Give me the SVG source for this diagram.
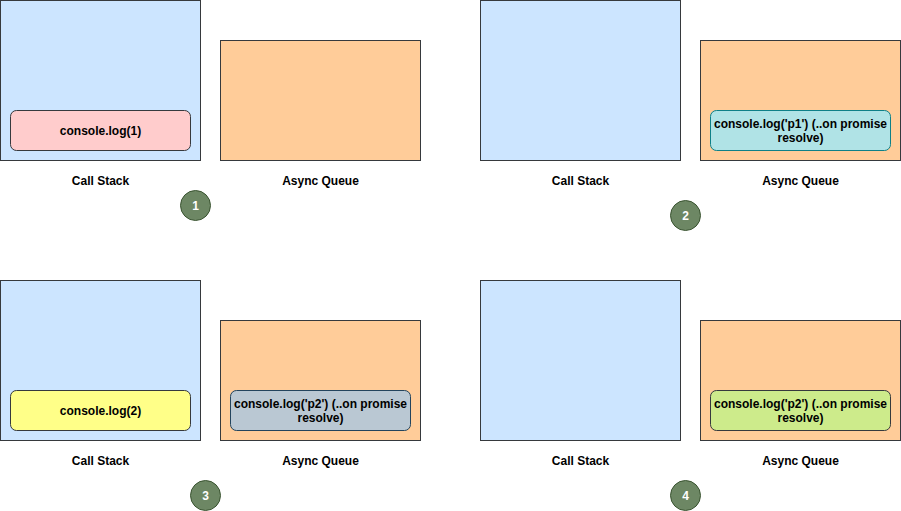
<svg xmlns="http://www.w3.org/2000/svg" width="901" height="511" viewBox="0 0 901 511">
<style>
text{font-family:"Liberation Sans",Arial,sans-serif;font-size:12px;font-weight:bold;text-anchor:middle;fill:#000}
.stack{fill:#cce5ff;stroke:#36393d;stroke-width:1}
.queue{fill:#ffcc99;stroke:#36393d;stroke-width:1}
.item{stroke-width:1}
.num{fill:#6d8764;stroke:#3a5431;stroke-width:1}
.numt{fill:#fff;font-weight:bold}
</style>
<rect width="901" height="511" fill="#fff"/>
<g id="panel1">
<g id="stack1"><rect class="stack" x="0.5" y="0.5" width="200" height="160"/></g>
<g id="queue1"><rect class="queue" x="220.5" y="40.5" width="200" height="120"/></g>
<g id="item1"><rect class="item" x="10.5" y="110.5" width="180" height="40" rx="6" fill="#ffcccc" stroke="#36393d"/><text x="100.5" y="134.5">console.log(1)</text></g>
<g id="label1a"><text x="100.5" y="185">Call Stack</text></g>
<g id="label1b"><text x="320.5" y="185">Async Queue</text></g>
<g id="num1"><circle class="num" cx="195.5" cy="205.5" r="15"/><text class="numt" x="195.5" y="209.5">1</text></g>
</g>
<g id="panel2">
<g id="stack2"><rect class="stack" x="480.5" y="0.5" width="200" height="160"/></g>
<g id="queue2"><rect class="queue" x="700.5" y="40.5" width="200" height="120"/></g>
<g id="item2"><rect class="item" x="710.5" y="110.5" width="180" height="40" rx="6" fill="#b0e3e6" stroke="#0e8088"/><text x="800.5" y="127.5">console.log('p1') (..on promise</text><text x="800.5" y="141.5">resolve)</text></g>
<g id="label2a"><text x="580.5" y="185">Call Stack</text></g>
<g id="label2b"><text x="800.5" y="185">Async Queue</text></g>
<g id="num2"><circle class="num" cx="685.5" cy="215.5" r="15"/><text class="numt" x="685.5" y="219.5">2</text></g>
</g>
<g id="panel3">
<g id="stack3"><rect class="stack" x="0.5" y="280.5" width="200" height="160"/></g>
<g id="queue3"><rect class="queue" x="220.5" y="320.5" width="200" height="120"/></g>
<g id="item3a"><rect class="item" x="10.5" y="390.5" width="180" height="40" rx="6" fill="#ffff88" stroke="#36393d"/><text x="100.5" y="414.5">console.log(2)</text></g>
<g id="item3b"><rect class="item" x="230.5" y="390.5" width="180" height="40" rx="6" fill="#bac8d3" stroke="#23445d"/><text x="320.5" y="407.5">console.log('p2') (..on promise</text><text x="320.5" y="421.5">resolve)</text></g>
<g id="label3a"><text x="100.5" y="465">Call Stack</text></g>
<g id="label3b"><text x="320.5" y="465">Async Queue</text></g>
<g id="num3"><circle class="num" cx="205.5" cy="495.5" r="15"/><text class="numt" x="205.5" y="499.5">3</text></g>
</g>
<g id="panel4">
<g id="stack4"><rect class="stack" x="480.5" y="280.5" width="200" height="160"/></g>
<g id="queue4"><rect class="queue" x="700.5" y="320.5" width="200" height="120"/></g>
<g id="item4"><rect class="item" x="710.5" y="390.5" width="180" height="40" rx="6" fill="#cdeb8b" stroke="#36393d"/><text x="800.5" y="407.5">console.log('p2') (..on promise</text><text x="800.5" y="421.5">resolve)</text></g>
<g id="label4a"><text x="580.5" y="465">Call Stack</text></g>
<g id="label4b"><text x="800.5" y="465">Async Queue</text></g>
<g id="num4"><circle class="num" cx="685.5" cy="495.5" r="15"/><text class="numt" x="685.5" y="499.5">4</text></g>
</g>
<g id="connectors"/>
</svg>
